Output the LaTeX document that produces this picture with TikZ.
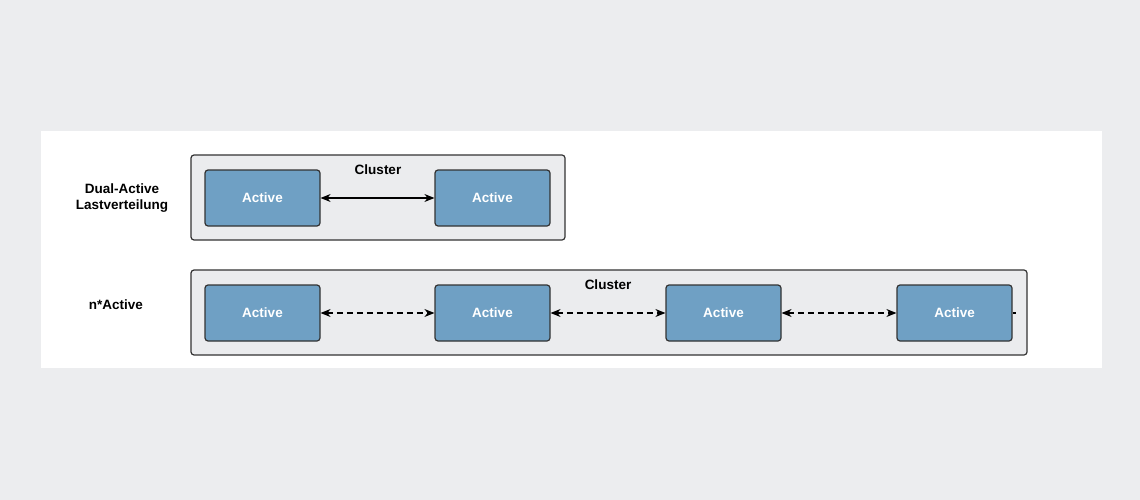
\documentclass[tikz,border=0pt]{standalone}
\usepackage{fontspec}
\setmainfont{Liberation Sans}
\usetikzlibrary{arrows.meta}
\definecolor{bggray}{HTML}{ECEDEF}
\definecolor{clfill}{HTML}{EBECEE}
\definecolor{actfill}{HTML}{6FA0C4}
\definecolor{edge}{HTML}{333333}
\tikzset{
    my-cluster/.style={
      draw=edge, fill=clfill, rounded corners=3pt, line width=1.2pt
    },
    my-active/.style={
      draw=edge, fill=actfill, rounded corners=3pt, line width=1.2pt,
      minimum width=115pt, minimum height=56pt, text=white,
      font=\fontsize{13.5}{15}\selectfont\bfseries
    },
    my-label/.style={
      font=\fontsize{13.5}{16}\selectfont\bfseries, align=center
    },
    my-link/.style={
      {Stealth[length=10pt,width=8pt]}-{Stealth[length=10pt,width=8pt]}, line width=1.2pt
    },
}
\begin{document}
\begin{tikzpicture}[x=1pt,y=-1pt]

        % BACKGROUND
        \fill[bggray] (0,0) rectangle (1140,500);
        \fill[white] (41,131) rectangle (1102,368);

        % CLUSTERS
        \draw[my-cluster] (191,155) rectangle (565,240);
        \draw[my-cluster] (191,270) rectangle (1027,355);
        \node[my-label] (CL1) at (378,170) {Cluster};
        \node[my-label] (CL2) at (608,285) {Cluster};

        % ROW LABELS
        \node[my-label] (DUAL) at (122,198) {Dual-Active\\Lastverteilung};
        \node[my-label] (NACT) at (116,305) {n*Active};

        % DUAL-ACTIVE ROW
        \node[my-active] (A1) at (262.5,198) {Active};
        \node[my-active] (A2) at (492.5,198) {Active};
        \draw[my-link] (A1) -- (A2);

        % N*ACTIVE ROW
        \foreach \i/\x in {1/262.5, 2/492.5, 3/723.5, 4/954.5}
            \node[my-active] (N\i) at (\x,313) {Active};
        \foreach \a/\b in {1/2, 2/3, 3/4}
            \draw[my-link, dash pattern=on 6pt off 4pt] (N\a) -- (N\b);
        \coordinate (NEND) at (1016,313);
        \draw[line width=1.2pt] (N4) -- (NEND);

\end{tikzpicture}
\end{document}
